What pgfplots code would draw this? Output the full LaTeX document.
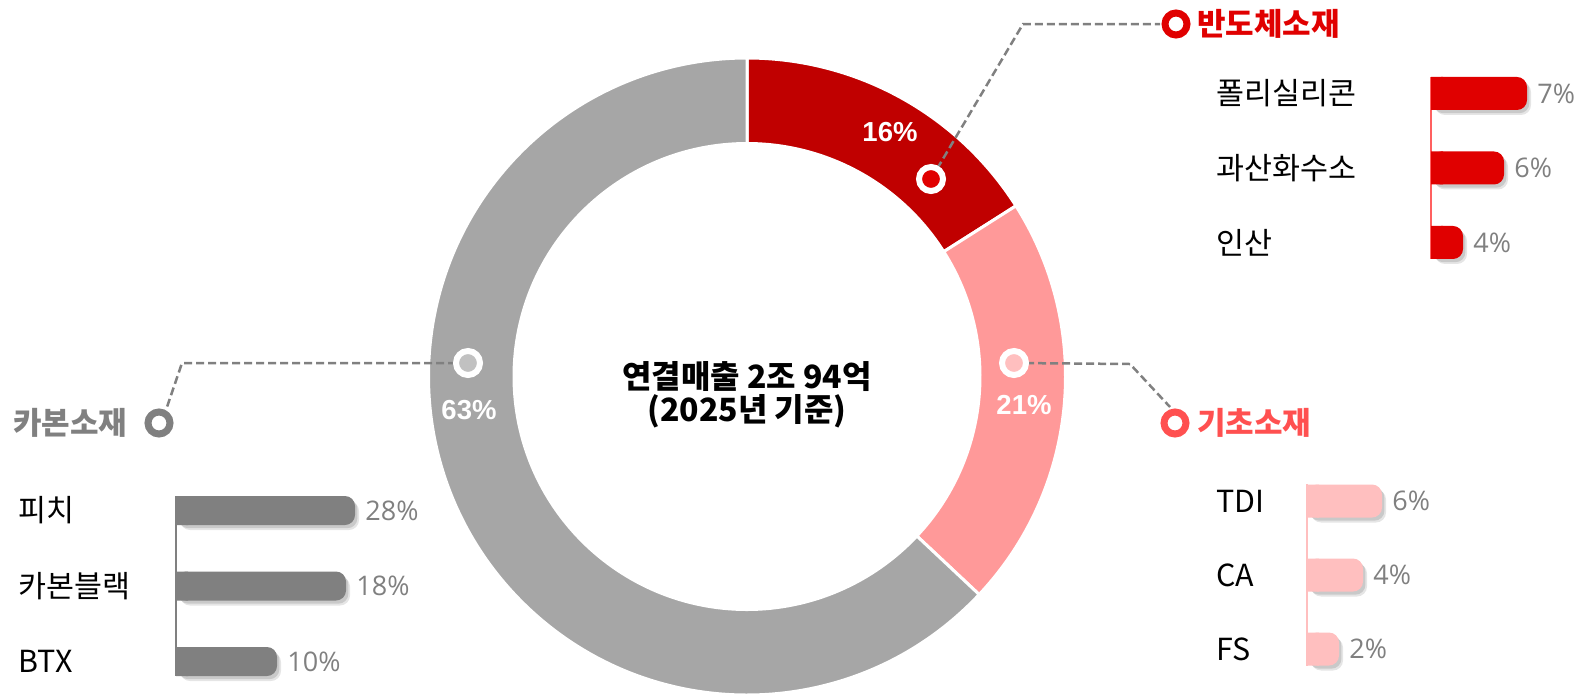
\documentclass[border=0pt]{standalone}
\usepackage{fontspec}
\setmainfont{Noto Sans CJK KR}
\newfontfamily\arial{Liberation Sans}
\newfontfamily\pctfont{Open Sans}
\usepackage{pgfplots}
\pgfplotsset{compat=1.18}
\usepackage{pgfplotstable}

\definecolor{segred}{HTML}{C00000}
\definecolor{segpink}{HTML}{FF9999}
\definecolor{seggray}{HTML}{A6A6A6}
\definecolor{barred}{HTML}{E00000}
\definecolor{barpink}{HTML}{FFBFBF}
\definecolor{bargray}{HTML}{808080}
\definecolor{titlered}{HTML}{E00000}
\definecolor{titlepink}{HTML}{FF5050}
\definecolor{titlegray}{HTML}{808080}
\definecolor{redline}{HTML}{FF6060}
\definecolor{pctgray}{HTML}{808080}
\definecolor{dashgray}{HTML}{808080}

\newcommand\namefont{\fontsize{15.2pt}{18pt}\selectfont}
\newcommand\pctf{\pctfont\fontsize{13.5pt}{16pt}\selectfont}
\newcommand\ttl{\fontsize{15.5pt}{18pt}\selectfont\bfseries}
\newcommand\wpct{\arial\bfseries\fontsize{13.75pt}{16pt}\selectfont}
\newcommand\ctr{\fontsize{16pt}{16.5pt}\selectfont\bfseries}

% donut shares (%), clockwise from 12 o'clock
\pgfplotstableread{
share
16
21
63
}\donut

% bar tables: label value and visible bar length (px from the axis line)
\pgfplotstableread[col sep=comma]{
name,pct,len
폴리실리콘,7,96
과산화수소,6,73
인산,4,32
}\semi
\pgfplotstableread[col sep=comma]{
name,pct,len
TDI,6,75
CA,4,56
FS,2,32
}\basic
\pgfplotstableread[col sep=comma]{
name,pct,len
피치,28,179
카본블랙,18,170
BTX,10,101
}\carbon

% segment angles from the shares
\def\angA{90}
\pgfplotstablegetelem{0}{share}\of\donut \pgfmathsetmacro\angB{\angA-3.6*\pgfplotsretval}
\pgfplotstablegetelem{1}{share}\of\donut \pgfmathsetmacro\angC{\angB-3.6*\pgfplotsretval}
\pgfplotstablegetelem{2}{share}\of\donut \pgfmathsetmacro\angD{\angC-3.6*\pgfplotsretval}

\def\Ro{159.25pt}
\def\Ri{116.5pt}
\newcommand\seg[3]{\fill[#3, draw=white, line width=1.5pt] (#1:\Ro) arc[start angle=#1, end angle=#2, radius=\Ro] -- (#2:\Ri) arc[start angle=#2, end angle=#1, radius=\Ri] -- cycle;}

\pgfplotsset{
  minibar/.style={anchor=origin, x=0.5pt, y dir=reverse, xmin=0, xmax=110,
    axis x line=none, axis y line=left, y axis line style={-},
    ytick={0,1,2}, major tick length=0pt, xbar, bar shift=0pt, clip=false,
    /pgf/number format/assume math mode=true,
    yticklabel style={anchor=west, inner sep=0pt, font=\namefont, text=black}},
  shadowbar/.style={fill=black, fill opacity=#1, draw=none, rounded corners=5pt},
  leader/.style={color=dashgray, line width=1.25pt, dash pattern=on 4pt off 2pt, mark=none},
}

% one bar chart: table, bar colour
\newcommand\minibars[2]{%
\addplot[shadowbar=0.10, xshift=2pt, yshift=-2.5pt] table[x=len, y expr=\coordindex] {#1};
\addplot[shadowbar=0.12, xshift=1.2pt, yshift=-1.6pt] table[x=len, y expr=\coordindex] {#1};
\addplot[fill=#2, draw=none, rounded corners=5pt,
  nodes near coords={\pgfmathprintnumber{\pgfplotspointmeta}\%},
  nodes near coords style={anchor=west, inner sep=0pt, xshift=5pt, font=\pctf, text=pctgray},
  point meta=explicit] table[x=len, y expr=\coordindex, meta=pct] {#1};
\addplot[fill=#2, draw=none] table[x expr={min(\thisrow{len},12)}, y expr=\coordindex] {#1};
}

\begin{document}%
\begin{tikzpicture}[x=0.5pt, y=-0.5pt]

\begin{axis}[at={(0pt,0pt)}, anchor=origin, x=0.5pt, y=0.5pt, y dir=reverse,
  xmin=0, xmax=1577, ymin=0, ymax=694, hide axis, clip=false]
\begin{scope}[shift={(axis cs:747,376.5)}]
\seg{\angA}{\angB}{segred}
\seg{\angB}{\angC}{segpink}
\seg{\angC}{\angD}{seggray}
\end{scope}

\addplot[leader] coordinates {(931,179) (1023,24) (1160,24)};
\addplot[leader] coordinates {(468,363) (182,363) (167,407)};
\addplot[leader] coordinates {(1014,363) (1130,364) (1170,407)};

\addplot[only marks, mark=*, mark size=6pt, mark options={draw=white, line width=3pt, fill=barred}] coordinates {(931,179)};
\addplot[only marks, mark=*, mark size=6pt, mark options={draw=white, line width=3pt, fill=barpink}] coordinates {(1014,363)};
\addplot[only marks, mark=*, mark size=6pt, mark options={draw=white, line width=3pt, fill=seggray!70!white}] coordinates {(468,363)};

\addplot[only marks, mark=*, mark size=5.5pt, mark options={draw=titlered, fill=white, line width=3.5pt}] coordinates {(1176,24)};
\addplot[only marks, mark=*, mark size=5.5pt, mark options={draw=titlepink, fill=white, line width=3.5pt}] coordinates {(1175,423)};
\addplot[only marks, mark=*, mark size=5.5pt, mark options={draw=titlegray, fill=white, line width=3.5pt}] coordinates {(159,423)};

\node[font=\wpct, text=white] at (axis cs:890,132) {16\%};
\node[font=\wpct, text=white] at (axis cs:1024,405) {21\%};
\node[font=\wpct, text=white] at (axis cs:469,410) {63\%};

\node[anchor=west, inner sep=0pt, font=\ttl, text=titlered] at (axis cs:1197,24) {반도체소재};
\node[anchor=west, inner sep=0pt, font=\ttl, text=titlepink] at (axis cs:1197,423) {기초소재};
\node[anchor=west, inner sep=0pt, font=\ttl, text=titlegray] at (axis cs:13,423) {카본소재};

\node[align=center, inner sep=0pt, font=\ctr] at (axis cs:747,395) {연결매출 2조 94억\\(2025년 기준)};
\end{axis}

% semiconductor materials (anchor at pixel 1431, 93.5)
\begin{axis}[minibar, at={(715.5pt,-46.75pt)}, y=37.25pt, ymin=-0.22, ymax=2.22,
  bar width=16.5pt, yticklabels from table={\semi}{name},
  y axis line style={draw=redline, line width=1pt},
  yticklabel style={xshift=-107.5pt}]
\minibars{\semi}{barred}
\end{axis}

% basic materials (anchor at pixel 1307, 501)
\begin{axis}[minibar, at={(653.5pt,-250.5pt)}, y=37pt, ymin=-0.23, ymax=2.23,
  bar width=16.5pt, yticklabels from table={\basic}{name},
  y axis line style={draw=barpink, line width=1pt},
  yticklabel style={xshift=-45.5pt}]
\minibars{\basic}{barpink}
\end{axis}

% carbon materials (anchor at pixel 176, 510.5)
\begin{axis}[minibar, at={(88pt,-255.25pt)}, y=37.75pt, ymin=-0.19, ymax=2.19,
  bar width=14.5pt, yticklabels from table={\carbon}{name},
  y axis line style={draw=bargray, line width=1pt},
  yticklabel style={xshift=-79pt}]
\minibars{\carbon}{bargray}
\end{axis}

\pgfresetboundingbox
\path[use as bounding box] (0pt,0pt) rectangle (788.5pt,-347pt);
\end{tikzpicture}%
\end{document}
